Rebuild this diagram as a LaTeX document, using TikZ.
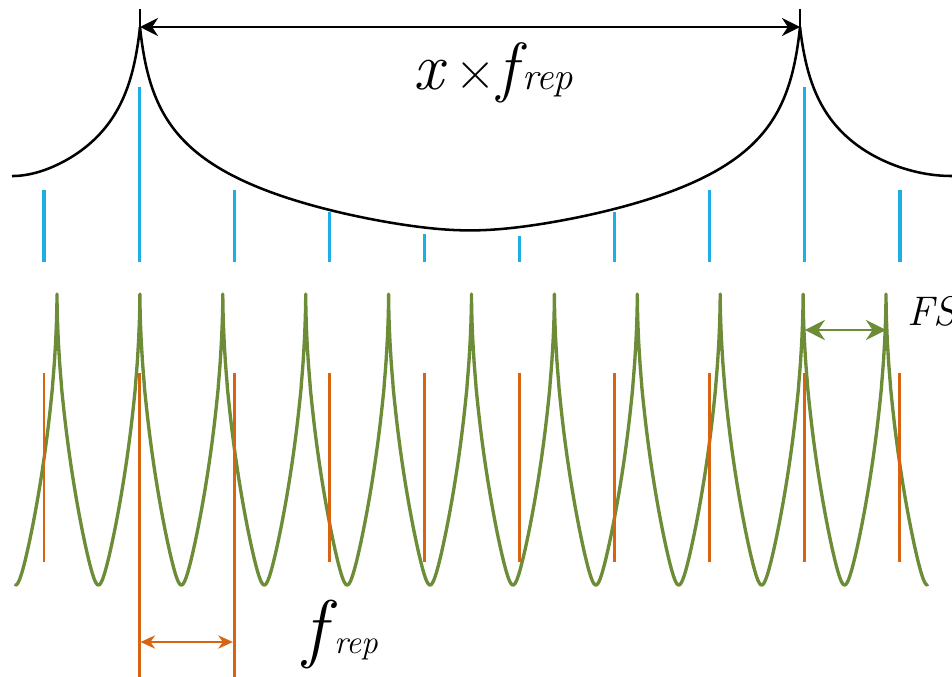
\documentclass[tikz,border=0pt]{standalone}
\usepackage{fontspec}
\usetikzlibrary{arrows.meta}
\definecolor{cblue}{RGB}{30,174,230}
\definecolor{corange}{RGB}{216,100,18}
\definecolor{cgreen}{RGB}{108,140,56}
\begin{document}
\begin{tikzpicture}[x=0.75pt,y=-0.75pt,
  blueline/.style={cblue,line width=2.4pt},
  orangeline/.style={corange,line width=2.2pt},
  greencurve/.style={cgreen,line width=2.5pt,line join=round,line cap=round},
  envcurve/.style={black,line width=1.9pt,line join=round},
  tickline/.style={black,line width=1.6pt},
  bigarrow/.style={black,line width=2.2pt,{Stealth[length=13.5pt,width=13.5pt]}-{Stealth[length=13.5pt,width=13.5pt]}},
  fsrarrow/.style={cgreen,line width=2.2pt,{Stealth[length=15pt,width=15pt]}-{Stealth[length=15pt,width=15pt]}},
  reparrow/.style={corange,line width=0.8pt,{Stealth[length=11pt,width=10pt]}-{Stealth[length=11pt,width=10pt]}},
  lab/.style={inner sep=0pt,outer sep=0pt}]
\useasboundingbox (0,0) rectangle (952,677);
\clip (0,0) rectangle (952,677);
% blue comb
\foreach \x/\t in {44/190,139.1/87,234.2/190,329.3/212,424.4/234,519.5/236,614.6/212,709.7/190,804.8/87,899.9/190}
  \draw[blueline] (\x,\t) -- (\x,262);
% envelope
\draw[envcurve] plot[domain=0:90,samples=120,variable=\t]
  ({140-128*(1-cos(\t))},{27+51*ln(1+10*(13.532-sqrt(pow(12.8*cos(\t),2)+19.27))/5.2)});
\draw[envcurve] plot[domain=0:180,samples=240,variable=\t]
  ({470-330*cos(\t)},{27+51*ln(1+10*(33.541-sqrt(pow(33*cos(\t),2)+36))/5.2)});
\draw[envcurve] plot[domain=0:90,samples=120,variable=\t]
  ({800+152*(1-cos(\t))},{27+51*ln(1+10*(17.209-sqrt(pow(15.2*cos(\t),2)+65.12))/5.2)});
\coordinate (cuspL) at (140,27);
\coordinate (cuspR) at (800,27);
\coordinate (tickL) at (140,9);
\coordinate (tickR) at (800,9);
\draw[tickline] (tickL) -- ([yshift=-3pt]cuspL);
\draw[tickline] (tickR) -- ([yshift=-3pt]cuspR);
\draw[bigarrow] (cuspL) -- (cuspR);
% green resonances
\foreach \k in {0,...,10}{
  \pgfmathsetmacro\p{57+82.9*\k}
  \draw[greencurve] plot[domain=-1:1,samples=160,variable=\t]
    ({\p+41.45*\t*abs(\t)},{293+292*pow(max(41.882-sqrt(pow(41.45*(1-\t*\t),2)+36),0.00001)/35.882,0.55)});
}
% orange comb
\foreach \x/\b in {44/562,139.1/677,234.2/677,329.3/562,424.4/562,519.5/562,614.6/562,709.7/562,804.8/562,899.9/562}
  \draw[orangeline] (\x,373) -- (\x,\b);
% FSR arrow
\coordinate (fsrL) at (804.8,330);
\coordinate (fsrR) at (886,330);
\draw[fsrarrow] (fsrL) -- (fsrR);
% frep arrow
\coordinate (repL) at (140.5,642);
\coordinate (repR) at (232.8,642);
\draw[reparrow] (repL) -- (repR);
% labels
\node[lab,anchor=base west] (lx) at (413,90) {\fontsize{50}{50}\selectfont\itshape x};
\node[lab,anchor=base] (ltimes) at (476,90) {\fontsize{42}{42}\selectfont ×};
\node[lab,anchor=base west] (lf) at (497,90) {\fontsize{50}{50}\selectfont\itshape f};
\node[lab,anchor=base west] (lrep) at (522,90) {\fontsize{29}{29}\selectfont\itshape rep};
\node[lab,anchor=base west] (lf2) at (303,653) {\fontsize{57}{57}\selectfont\itshape f};
\node[lab,anchor=base west] (lrep2) at (334,653) {\fontsize{25}{25}\selectfont\itshape rep};
\node[lab,anchor=base west] (lfsr) at (907,325) {\fontsize{31}{31}\selectfont\itshape FSR};
\end{tikzpicture}
\end{document}
